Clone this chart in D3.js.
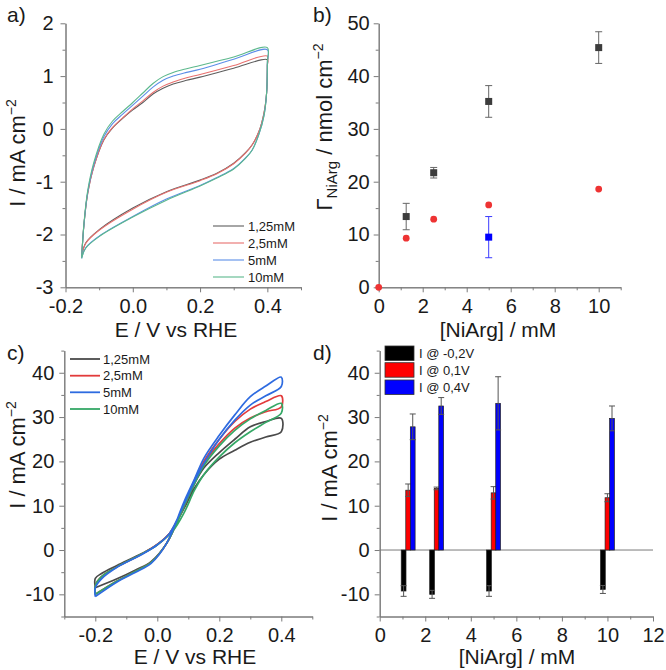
<!DOCTYPE html>
<html><head><meta charset="utf-8">
<script src="https://cdn.jsdelivr.net/npm/d3@7"></script>
<style>
body{margin:0;background:#fff;}
text{font-family:"Liberation Sans",Arial,sans-serif;fill:#1a1a1a;}
</style></head>
<body><svg id="c" width="666" height="670"></svg>
<script>
// ---------- DATA ----------
// Panel a: CV loops (E / V, I / mA cm-2)
const cvA_125 = [[-0.152,-2.42],[-0.145,-1.8],[-0.134,-1.22],[-0.116,-0.72],[-0.086,-0.21],[-0.06,0.02],[-0.03,0.2],[0,0.36],[0.03,0.5],[0.06,0.66],[0.09,0.77],[0.12,0.85],[0.16,0.92],[0.2,0.98],[0.3,1.15],[0.4,1.31],
  [0.4,1.2],[0.398,0.7],[0.39,0.3],[0.375,-0.05],[0.355,-0.3],[0.335,-0.45],[0.3,-0.65],[0.25,-0.84],[0.2,-0.97],[0.1,-1.19],[0,-1.5],[-0.1,-1.91],[-0.14,-2.16],[-0.152,-2.42]];
const cvA_25 = [[-0.152,-2.42],[-0.145,-1.8],[-0.134,-1.22],[-0.116,-0.72],[-0.086,-0.2],[-0.06,0.03],[-0.03,0.21],[0,0.38],[0.03,0.53],[0.06,0.69],[0.09,0.81],[0.12,0.89],[0.16,0.97],[0.2,1.03],[0.3,1.2],[0.4,1.38],
  [0.4,1.22],[0.398,0.7],[0.39,0.3],[0.375,-0.05],[0.355,-0.3],[0.335,-0.46],[0.3,-0.66],[0.25,-0.85],[0.2,-0.98],[0.1,-1.2],[0,-1.52],[-0.1,-1.92],[-0.14,-2.17],[-0.152,-2.42]];
const cvA_5 = [[-0.152,-2.45],[-0.145,-1.8],[-0.134,-1.2],[-0.116,-0.68],[-0.086,-0.15],[-0.06,0.1],[-0.03,0.28],[0,0.45],[0.03,0.62],[0.06,0.79],[0.09,0.92],[0.12,1.0],[0.16,1.07],[0.2,1.13],[0.3,1.32],[0.4,1.5],
  [0.4,1.25],[0.398,0.7],[0.39,0.25],[0.375,-0.1],[0.355,-0.4],[0.335,-0.55],[0.3,-0.75],[0.25,-0.92],[0.2,-1.07],[0.1,-1.33],[0,-1.66],[-0.1,-2.03],[-0.14,-2.25],[-0.152,-2.45]];
const cvA_10 = [[-0.152,-2.45],[-0.145,-1.78],[-0.134,-1.17],[-0.116,-0.64],[-0.086,-0.1],[-0.06,0.15],[-0.03,0.33],[0,0.5],[0.03,0.68],[0.06,0.86],[0.09,0.99],[0.12,1.07],[0.16,1.14],[0.2,1.2],[0.3,1.36],[0.4,1.54],
  [0.4,1.27],[0.398,0.7],[0.39,0.25],[0.375,-0.1],[0.355,-0.4],[0.335,-0.56],[0.3,-0.76],[0.25,-0.93],[0.2,-1.08],[0.1,-1.35],[0,-1.67],[-0.1,-2.04],[-0.14,-2.26],[-0.152,-2.45]];
const legendA = ["1,25mM","2,5mM","5mM","10mM"];

// Panel b: surface coverage vs concentration
const concB = [1.25, 2.5, 5, 10];
const gammaBlack = [13.4, 21.7, 35.2, 45.4];
const gammaBlackErr = [2.5, 1.0, 3.0, 3.0];
const concRed = [0, 1.25, 2.5, 5, 10];
const gammaRed = [0, 9.3, 12.9, 15.6, 18.6];
const concBlue = [5];
const gammaBlue = [9.5];
const gammaBlueErr = [3.9];

// Panel c: CV loops
const cvC_125 = [[-0.2,-8.5],[-0.13,-6.5],[-0.07,-4.5],[-0.02,-2.6],[0.03,1.5],[0.087,10],[0.12,15],[0.15,18.5],[0.2,22],[0.25,25],[0.3,27.8],[0.35,29],[0.4,29.7],
  [0.4,26.7],[0.35,25.5],[0.3,24.3],[0.25,22.5],[0.2,20.5],[0.15,17],[0.12,14],[0.087,9.5],[0.04,3.8],[0,1.2],[-0.05,-0.8],[-0.13,-3.5],[-0.18,-5.3],[-0.2,-6.4],[-0.2,-8.5]];
const cvC_25 = [[-0.2,-10],[-0.13,-7],[-0.07,-4.8],[-0.02,-2.8],[0.03,1.5],[0.087,10.5],[0.12,15.8],[0.15,20],[0.2,25],[0.25,29],[0.3,31.8],[0.35,33.5],[0.4,34.8],
  [0.4,32.3],[0.35,31.2],[0.3,29.8],[0.25,27.5],[0.2,24],[0.15,19.5],[0.12,15.5],[0.087,10],[0.04,3.8],[0,1.3],[-0.05,-0.9],[-0.13,-3.8],[-0.18,-6],[-0.2,-8],[-0.2,-10]];
const cvC_5 = [[-0.2,-10.5],[-0.13,-7.2],[-0.07,-5],[-0.02,-3],[0.03,1.5],[0.087,11],[0.12,16],[0.15,20.7],[0.2,25.9],[0.25,30.5],[0.3,34.6],[0.35,37],[0.4,39],
  [0.4,36.9],[0.35,34.8],[0.3,32.7],[0.25,29.3],[0.2,25],[0.15,19.5],[0.12,15.5],[0.087,10.5],[0.04,3.8],[0,1.2],[-0.05,-1],[-0.13,-3.9],[-0.18,-6.5],[-0.2,-8.5],[-0.2,-10.5]];
const cvC_10 = [[-0.2,-10],[-0.13,-7],[-0.07,-4.8],[-0.02,-2.8],[0.03,1.5],[0.087,10],[0.12,15],[0.15,19],[0.2,23.5],[0.25,27],[0.3,29.6],[0.35,31.5],[0.4,33.1],
  [0.4,30.9],[0.35,28.8],[0.3,26.7],[0.25,24.2],[0.2,21],[0.15,17],[0.12,13.5],[0.087,8.5],[0.05,4.3],[0,1.2],[-0.05,-0.9],[-0.13,-3.8],[-0.18,-6],[-0.2,-8],[-0.2,-10]];
const legendC = ["1,25mM","2,5mM","5mM","10mM"];

// Panel d: currents at fixed potentials
const concD = [1.25, 2.5, 5, 10];
const iNeg02 = [-9.25, -10.0, -9.25, -8.9];
const iNeg02Err = [1.2, 0.9, 1.2, 0.9];
const i01 = [13.5, 13.9, 12.9, 11.8];
const i01Err = [1.4, 0.3, 1.4, 0.9];
const i04 = [27.8, 32.5, 33.1, 29.7];
const i04Err = [2.9, 1.9, 6.0, 2.8];
const legendD = ["I @ -0,2V","I @ 0,1V","I @ 0,4V"];

// ---------- DRAW ----------
const svg = d3.select("#c");
const AX = "#7a7a7a";

function axes(g, x, y, o){
  const bx = d3.axisBottom(x).tickValues(o.xMaj).tickSize(5).tickSizeOuter(0).tickPadding(o.xPad||8).tickFormat(o.xFmt);
  const bxm = d3.axisBottom(x).tickValues(o.xMin).tickSize(3).tickSizeOuter(0).tickFormat("");
  const ly = d3.axisLeft(y).tickValues(o.yMaj).tickSize(5).tickSizeOuter(0).tickPadding(o.yPad||5).tickFormat(o.yFmt);
  const lym = d3.axisLeft(y).tickValues(o.yMin).tickSize(3).tickSizeOuter(0).tickFormat("");
  const y0 = y.range()[0], x0 = x.range()[0];
  [bxm,bx].forEach(a=>{
    const s = g.append("g").attr("transform",`translate(0,${y0})`).call(a);
    s.selectAll("path,line").attr("stroke",AX);
    s.selectAll("text").attr("font-size",20).attr("fill","#1a1a1a").attr("font-family","Liberation Sans, Arial, sans-serif");
  });
  [lym,ly].forEach(a=>{
    const s = g.append("g").attr("transform",`translate(${x0},0)`).call(a);
    s.selectAll("path,line").attr("stroke",AX);
    s.selectAll("text").attr("font-size",20).attr("fill","#1a1a1a").attr("font-family","Liberation Sans, Arial, sans-serif");
  });
}
const fmt1 = d => d3.format(".1f")(d).replace("−","-");
const fmtI = d => String(d);

function ylabel(x, yc, parts){
  const t = svg.append("text").attr("transform",`translate(${x},${yc}) rotate(-90)`).attr("text-anchor","middle").attr("font-size",22);
  parts.forEach(p=>{
    const s = t.append("tspan").text(p.t);
    if(p.fs) s.attr("font-size",p.fs);
    if(p.dy) s.attr("dy",p.dy);
  });
  return t;
}
function label(x,y,txt,fs,anchor){
  return svg.append("text").attr("x",x).attr("y",y).attr("font-size",fs).attr("text-anchor",anchor||"start").text(txt);
}
const smooth = d3.curveCatmullRom.alpha(0.5);

// ===== Panel a =====
{
  const x = d3.scaleLinear().domain([-0.2,0.5]).range([65.5,301]);
  const y = d3.scaleLinear().domain([-3,2]).range([287.3,23.3]);
  const g = svg.append("g");
  axes(g,x,y,{xMaj:[-0.2,0,0.2,0.4],xMin:[-0.1,0.1,0.3,0.5],xFmt:fmt1,xPad:7,yMaj:[-3,-2,-1,0,1,2],yMin:[-2.5,-1.5,-0.5,0.5,1.5],yFmt:fmtI,yPad:7});
  const cols = ["#5e5e5e","#e8706e","#5c8ee8","#5cb88c"];
  const line = d3.line().x(d=>x(d[0])).y(d=>y(d[1])).curve(smooth);
  [cvA_125,cvA_25,cvA_5,cvA_10].forEach((s,i)=>{
    g.append("path").attr("d",line(s)).attr("fill","none").attr("stroke",cols[i]).attr("stroke-width",1.1);
  });
  const ly = [226,243,260,277];
  legendA.forEach((t,i)=>{
    g.append("line").attr("x1",213).attr("x2",244).attr("y1",ly[i]).attr("y2",ly[i]).attr("stroke",cols[i]).attr("stroke-width",1.1);
    g.append("text").attr("x",248).attr("y",ly[i]).attr("dy","0.35em").attr("font-size",13).text(t);
  });
  label(7,22,"a)",21);
  ylabel(25,153,[{t:"I / mA cm"},{t:"−2",fs:14,dy:-9}]);
  label(176,337,"E / V vs RHE",21,"middle");
}

// ===== Panel b =====
{
  const x = d3.scaleLinear().domain([0,11]).range([378.7,620.7]);
  const y = d3.scaleLinear().domain([0,50]).range([287.3,23.3]);
  const g = svg.append("g");
  axes(g,x,y,{xMaj:[0,2,4,6,8,10],xMin:[1,3,5,7,9,11],xFmt:fmtI,xPad:7,yMaj:[0,10,20,30,40,50],yMin:[5,15,25,35,45],yFmt:fmtI,yPad:4});
  concB.forEach((c,i)=>{
    const cx=x(c), t=y(gammaBlack[i]+gammaBlackErr[i]), b=y(gammaBlack[i]-gammaBlackErr[i]);
    g.append("line").attr("x1",cx).attr("x2",cx).attr("y1",t).attr("y2",b).attr("stroke","#666").attr("stroke-width",1);
    [t,b].forEach(yy=>g.append("line").attr("x1",cx-3.5).attr("x2",cx+3.5).attr("y1",yy).attr("y2",yy).attr("stroke","#666").attr("stroke-width",1));
    g.append("rect").attr("x",cx-3.5).attr("y",y(gammaBlack[i])-3.5).attr("width",7).attr("height",7).attr("fill","#3c3c3c");
  });
  concBlue.forEach((c,i)=>{
    const cx=x(c), t=y(gammaBlue[i]+gammaBlueErr[i]), b=y(gammaBlue[i]-gammaBlueErr[i]);
    g.append("line").attr("x1",cx).attr("x2",cx).attr("y1",t).attr("y2",b).attr("stroke","#3a3aff").attr("stroke-width",1);
    [t,b].forEach(yy=>g.append("line").attr("x1",cx-3.5).attr("x2",cx+3.5).attr("y1",yy).attr("y2",yy).attr("stroke","#3a3aff").attr("stroke-width",1));
    g.append("rect").attr("x",cx-3.5).attr("y",y(gammaBlue[i])-3.5).attr("width",7).attr("height",7).attr("fill","#0000ff");
  });
  concRed.forEach((c,i)=>{
    g.append("circle").attr("cx",x(c)).attr("cy",y(gammaRed[i])).attr("r",3.4).attr("fill","#ee3333");
  });
  label(313,22,"b)",21);
  ylabel(332,127,[{t:"Γ"},{t:"NiArg",fs:15,dy:5},{t:" / nmol cm",dy:-5},{t:"−2",fs:14,dy:-9}]);
  label(498,337,"[NiArg] / mM",21,"middle");
}

// ===== Panel c =====
{
  const x = d3.scaleLinear().domain([-0.3,0.5]).range([64.3,312.3]);
  const y = d3.scaleLinear().domain([-15,45]).range([616.5,350.6]);
  const g = svg.append("g");
  axes(g,x,y,{xMaj:[-0.2,0,0.2,0.4],xMin:[-0.3,-0.1,0.1,0.3,0.5],xFmt:fmt1,xPad:6,yMaj:[-10,0,10,20,30,40],yMin:[-15,-5,5,15,25,35,45],yFmt:fmtI,yPad:5});
  const cols = ["#4a4a4a","#e23b3b","#2e6be0","#35a866"];
  const line = d3.line().x(d=>x(d[0])).y(d=>y(d[1])).curve(smooth);
  [cvC_125,cvC_25,cvC_10,cvC_5].forEach((s,k)=>{
    const i = [0,1,3,2][k];
    g.append("path").attr("d",line(s)).attr("fill","none").attr("stroke",cols[i]).attr("stroke-width",1.7);
  });
  const ly = [359,375.7,392.3,409];
  legendC.forEach((t,i)=>{
    g.append("line").attr("x1",70).attr("x2",100).attr("y1",ly[i]).attr("y2",ly[i]).attr("stroke",cols[i]).attr("stroke-width",1.8);
    g.append("text").attr("x",103).attr("y",ly[i]).attr("dy","0.35em").attr("font-size",13).text(t);
  });
  label(7,360,"c)",21);
  ylabel(25,455,[{t:"I / mA cm"},{t:"−2",fs:14,dy:-9}]);
  label(195,664,"E / V vs RHE",21,"middle");
}

// ===== Panel d =====
{
  const x = d3.scaleLinear().domain([0,12]).range([379.7,653]);
  const y = d3.scaleLinear().domain([-15,45]).range([616.5,350.6]);
  const g = svg.append("g");
  axes(g,x,y,{xMaj:[0,2,4,6,8,10,12],xMin:[1,3,5,7,9,11],xFmt:fmtI,xPad:6,yMaj:[-10,0,10,20,30,40],yMin:[-15,-5,5,15,25,35,45],yFmt:fmtI,yPad:5});
  g.append("line").attr("x1",x(0)).attr("x2",x(12)).attr("y1",y(0)).attr("y2",y(0)).attr("stroke",AX).attr("stroke-width",1);
  const bw = 0.21;
  const series = [
    {v:iNeg02,e:iNeg02Err,off:-0.2,c:"#000000"},
    {v:i01,e:i01Err,off:0,c:"#ff0000"},
    {v:i04,e:i04Err,off:0.2,c:"#0000ff"}];
  series.forEach(s=>{
    concD.forEach((c,i)=>{
      const xc = c + s.off;
      const x1 = x(xc-bw/2), x2 = x(xc+bw/2);
      const v = s.v[i];
      g.append("rect").attr("x",x1).attr("width",x2-x1).attr("y",Math.min(y(0),y(v))).attr("height",Math.abs(y(v)-y(0)))
        .attr("fill",s.c).attr("stroke","#222").attr("stroke-width",0.7);
      const cx = x(xc), t=y(v+s.e[i]), b=y(v-s.e[i]);
      g.append("line").attr("x1",cx).attr("x2",cx).attr("y1",t).attr("y2",b).attr("stroke","#555").attr("stroke-width",1);
      [t,b].forEach(yy=>g.append("line").attr("x1",cx-3).attr("x2",cx+3).attr("y1",yy).attr("y2",yy).attr("stroke","#555").attr("stroke-width",1));
    });
  });
  const cols = ["#000000","#ff0000","#0000ff"];
  const by = [346,362.7,380];
  legendD.forEach((t,i)=>{
    g.append("rect").attr("x",385).attr("y",by[i]).attr("width",29).attr("height",14.5).attr("fill",cols[i]).attr("stroke","#333").attr("stroke-width",0.8);
    g.append("text").attr("x",419).attr("y",by[i]+7.3).attr("dy","0.35em").attr("font-size",13).text(t);
  });
  label(313,360,"d)",21);
  ylabel(337,468,[{t:"I / mA cm"},{t:"−2",fs:14,dy:-9}]);
  label(517,664,"[NiArg] / mM",21,"middle");
}
</script></body></html>
